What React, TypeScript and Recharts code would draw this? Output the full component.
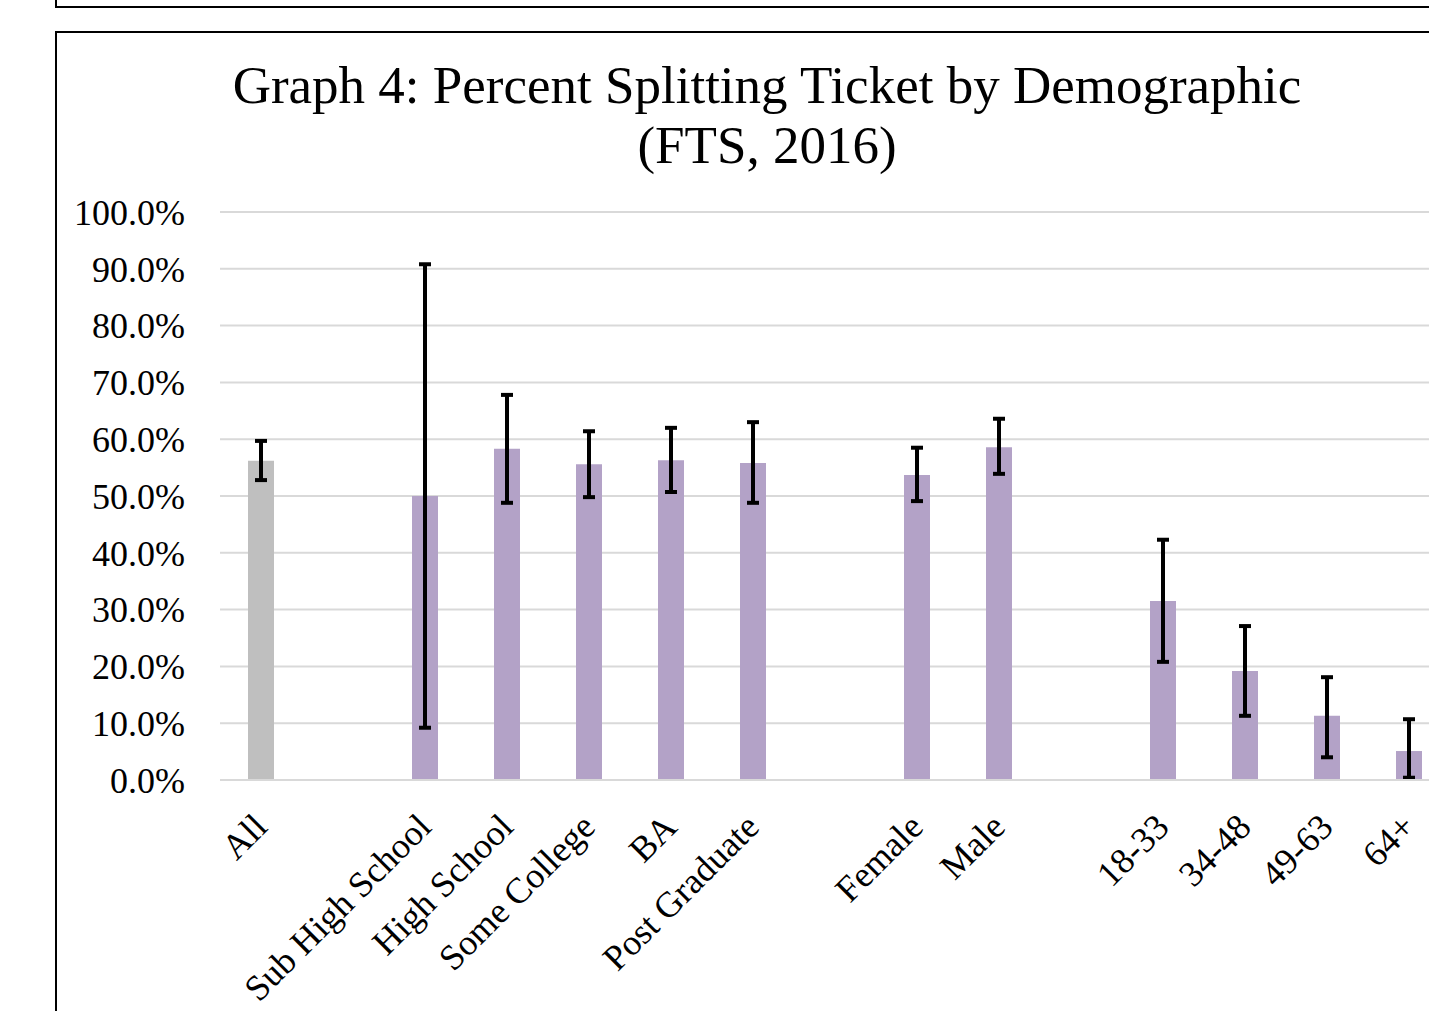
import { BarChart, Bar, Cell, CartesianGrid, XAxis, YAxis, ErrorBar } from "recharts"

// slots with "" are the empty spacer columns between groups
const categories = [
  "All", "", "Sub High School", "High School", "Some College", "BA", "Post Graduate",
  "", "Female", "Male", "", "18-33", "34-48", "49-63", "64+",
]
const values = [56.2, null, 50.0, 58.3, 55.6, 56.3, 55.8, null, 53.7, 58.6, null, 31.5, 19.2, 11.3, 5.1]
const lower = [52.8, null, 9.2, 48.8, 49.8, 50.7, 48.8, null, 49.1, 53.9, null, 20.8, 11.3, 4.0, 0.4]
const upper = [59.7, null, 90.8, 67.8, 61.4, 62.0, 63.0, null, 58.5, 63.6, null, 42.3, 27.1, 18.1, 10.7]
const yTicks = [0, 10, 20, 30, 40, 50, 60, 70, 80, 90, 100]

const font = "'Liberation Serif', 'Times New Roman', serif"
const grey = "#BFBFBF"
const purple = "#B3A2C7"

const data = categories.map((name, i) => {
  const v = values[i]
  const lo = lower[i]
  const hi = upper[i]
  return {
    name,
    value: v,
    err: v != null && lo != null && hi != null ? [v - lo, hi - v] : null,
  }
})

const XTick = (props: any) => {
  const { x, y, payload } = props
  if (!payload?.value) return null
  const ax = x + 8
  const ay = y + 49
  return (
    <text
      x={ax}
      y={ay}
      textAnchor="end"
      fontFamily={font}
      fontSize={36}
      fill="#000"
      transform={`rotate(-45 ${ax} ${ay})`}
    >
      {payload.value}
    </text>
  )
}

export default function App() {
  return (
    <div
      style={{
        position: "fixed",
        left: 0,
        top: 0,
        width: 1429,
        height: 1011,
        overflow: "hidden",
        background: "#fff",
      }}
    >
      {/* bottom of the previous frame */}
      <div
        style={{
          position: "absolute",
          left: 55,
          top: -100,
          width: 1500,
          height: 104,
          border: "2px solid #000",
        }}
      />
      {/* chart frame */}
      <div
        style={{
          position: "absolute",
          left: 55,
          top: 31,
          width: 1420,
          height: 1100,
          border: "2px solid #000",
        }}
      />
      <div
        style={{
          position: "absolute",
          left: 57,
          top: 55,
          width: 1420,
          textAlign: "center",
          fontFamily: font,
          fontSize: 53,
          lineHeight: "60px",
          color: "#000",
        }}
      >
        Graph 4: Percent Splitting Ticket by Demographic
        <br />
        (FTS, 2016)
      </div>
      <div style={{ position: "absolute", left: 0, top: 0 }}>
        <BarChart
          width={1480}
          height={1011}
          data={data}
          margin={{ top: 212, right: 30, left: 0, bottom: 0 }}
          barSize={26}
        >
          <CartesianGrid vertical={false} stroke="#D9D9D9" strokeWidth={2} />
          <XAxis
            dataKey="name"
            interval={0}
            height={231}
            tickLine={false}
            tickSize={0}
            tickMargin={0}
            axisLine={{ stroke: "#D9D9D9", strokeWidth: 2 }}
            tick={<XTick />}
          />
          <YAxis
            width={220}
            domain={[0, 100]}
            ticks={yTicks}
            axisLine={false}
            tickLine={false}
            tickSize={0}
            tickMargin={35}
            tickFormatter={(v: number) => `${v.toFixed(1)}%`}
            tick={{ fontFamily: font, fontSize: 36, fill: "#000" }}
          />
          <Bar dataKey="value" isAnimationActive={false}>
            {data.map((d, i) => (
              <Cell key={i} fill={d.name === "All" ? grey : purple} />
            ))}
            <ErrorBar
              dataKey="err"
              direction="y"
              width={6}
              strokeWidth={4}
              stroke="#000"
              isAnimationActive={false}
            />
          </Bar>
        </BarChart>
      </div>
    </div>
  )
}
